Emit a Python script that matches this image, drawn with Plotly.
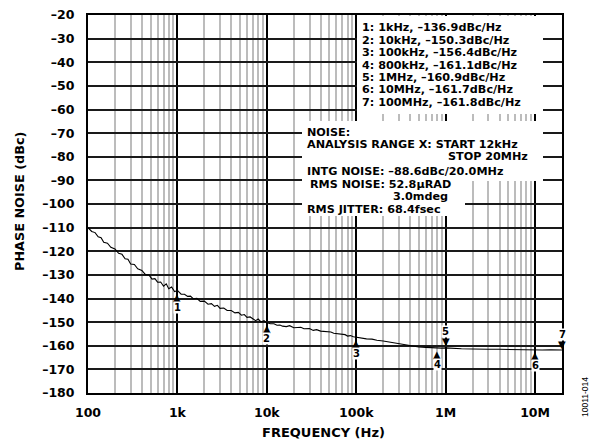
import numpy as np
import plotly.graph_objects as go

# ---- data ----
freq_hz = [
    100, 110, 120, 130, 140, 150, 165, 180, 200, 220, 240, 260, 280, 300, 330, 360,
    400, 440, 480, 520, 560, 600, 650, 700, 750, 800, 860, 930, 1000,
    1100, 1200, 1300, 1400, 1500, 1650, 1800, 2000, 2200, 2400, 2600, 2800, 3000,
    3300, 3600, 4000, 4400, 4800, 5200, 5600, 6000, 6500, 7000, 7500, 8000, 8600,
    9300, 10000,
    11000, 12000, 13000, 14000, 15000, 16500, 18000, 20000, 22000, 24000, 26000,
    28000, 30000, 33000, 36000, 40000, 44000, 48000, 52000, 56000, 60000, 65000,
    70000, 75000, 80000, 86000, 93000, 100000,
    115000, 130000, 150000, 170000, 200000, 230000, 260000, 300000, 350000, 400000,
    450000, 500000, 600000, 700000, 800000, 900000, 1000000,
    1200000, 1500000, 2000000, 2500000, 3000000, 4000000, 5000000, 6000000,
    7000000, 8000000, 10000000, 12000000, 15000000, 18000000, 20000000,
]
phase_noise_dbc = [
    -110.0, -111.6, -112.1, -113.9, -114.3, -116.2, -116.6, -118.3, -119.0, -120.9,
    -121.3, -123.2, -123.4, -125.4, -125.6, -127.4, -128.1, -129.9, -130.0, -131.8,
    -131.6, -133.1, -133.0, -134.8, -133.8, -135.9, -135.1, -137.1, -136.6,
    -138.2, -138.2, -139.1, -139.0, -140.1, -139.9, -141.2, -141.1, -142.4, -142.2,
    -143.3, -142.9, -144.2, -144.0, -145.1, -145.1, -146.1, -145.9, -147.1, -146.8,
    -148.0, -147.8, -148.8, -149.4, -148.7, -149.9, -149.4, -150.3,
    -150.7, -150.7, -151.3, -151.2, -151.7, -151.9, -151.5, -152.4, -152.3, -152.2,
    -152.8, -152.9, -152.7, -153.5, -153.2, -153.8, -154.0, -154.3, -154.2, -154.7,
    -154.9, -155.1, -155.4, -155.3, -155.9, -155.7, -156.2, -156.4,
    -156.7, -157.1, -157.2, -157.7, -158.0, -158.4, -158.7, -159.1, -159.4, -159.9,
    -160.1, -160.5, -160.7, -160.9, -161.1, -161.0, -160.9,
    -161.2, -161.3, -161.4, -161.3, -161.5, -161.5, -161.6, -161.5, -161.7, -161.6,
    -161.7, -161.8, -161.7, -161.8, -161.8,
]

marker_ids = ["1", "2", "3", "4", "5", "6", "7"]
marker_freq = [1e3, 1e4, 1e5, 8e5, 1e6, 1e7, 2e7]
marker_dbc = [-136.9, -150.3, -156.4, -161.1, -160.9, -161.7, -161.8]
marker_up = [True, True, True, True, False, True, False]

marker_lines = [
    "1: 1kHz, –136.9dBc/Hz",
    "2: 10kHz, –150.3dBc/Hz",
    "3: 100kHz, –156.4dBc/Hz",
    "4: 800kHz, –161.1dBc/Hz",
    "5: 1MHz, –160.9dBc/Hz",
    "6: 10MHz, –161.7dBc/Hz",
    "7: 100MHz, –161.8dBc/Hz",
]
noise_lines = [
    "NOISE:",
    "ANALYSIS RANGE X: START 12kHz",
    "STOP 20MHz",
    "INTG NOISE: –88.6dBc/20.0MHz",
    "RMS NOISE: 52.8µRAD",
    "3.0mdeg",
    "RMS JITTER: 68.4fsec",
]

xtick_vals = [100, 1e3, 1e4, 1e5, 1e6, 1e7]
xtick_text = ["100", "1k", "10k", "100k", "1M", "10M"]
ytick_vals = list(range(-180, -19, 10))
ytick_text = ["–%d" % (-v) for v in ytick_vals]

# ---- layout geometry (page pixels) ----
W, H = 598, 445
PL, PT, PR, PB = 88, 15, 562, 393          # plot area in page pixels
L, T = PL, PT
PW, PH = PR - PL, PB - PT
R, B = W - L - PW, H - T - PH


def px(x):
    return (x - PL) / PW


def py(y):
    return 1 - (y - PT) / PH


FONT = "DejaVu Sans, Verdana, sans-serif"
fig = go.Figure()

fig.add_trace(go.Scatter(
    x=freq_hz, y=phase_noise_dbc, mode="lines",
    line=dict(color="black", width=1.1), hoverinfo="skip", showlegend=False,
))

# white boxes behind the text blocks
box_style = dict(type="rect", xref="paper", yref="paper", fillcolor="white",
                 line=dict(width=0), layer="above")
fig.add_shape(x0=px(357), x1=px(543), y0=py(16), y1=py(114), **box_style)
fig.add_shape(x0=px(302), x1=px(543), y0=py(121), y1=py(181), **box_style)
fig.add_shape(x0=px(302), x1=px(465), y0=py(181), y1=py(216), **box_style)

annotations = []
text_font = dict(family=FONT, size=11.2, color="black", weight="bold")
for i, line in enumerate(marker_lines):
    annotations.append(dict(xref="paper", yref="paper", x=px(360), y=py(27.5 + 12.5 * i),
                            xanchor="left", yanchor="middle", text=line,
                            showarrow=False, font=text_font))
noise_pos = [(305, 132.5, "left"), (305, 144.8, "left"), (530, 156.5, "right"),
             (305, 171, "left"), (308, 184, "left"), (450, 197, "right"),
             (305, 209.5, "left")]
for line, (lx, ly, anc) in zip(noise_lines, noise_pos):
    annotations.append(dict(xref="paper", yref="paper", x=px(lx), y=py(ly),
                            xanchor=anc, yanchor="middle", text=line,
                            showarrow=False, font=text_font))

# markers (triangles + numbers)
for mid, f, v, up in zip(marker_ids, marker_freq, marker_dbc, marker_up):
    lx = float(np.log10(f))
    tri = "▲" if up else "▼"
    s = -1 if up else 1
    annotations.append(dict(xref="x", yref="y", x=lx, y=v, yshift=s * 6,
                            text=tri, showarrow=False,
                            font=dict(family="DejaVu Sans", size=10, color="black")))
    annotations.append(dict(xref="x", yref="y", x=lx, y=v, yshift=s * 16,
                            text=mid, showarrow=False, bgcolor="white", borderpad=0,
                            font=dict(family=FONT, size=10, color="black", weight="bold")))

# axis titles and figure id
annotations.append(dict(xref="paper", yref="paper", x=px(323.5), y=py(432),
                        xanchor="center", yanchor="middle", text="FREQUENCY (Hz)",
                        showarrow=False,
                        font=dict(family=FONT, size=13, color="black", weight="bold")))
annotations.append(dict(xref="paper", yref="paper", x=px(20), y=py(202),
                        xanchor="center", yanchor="middle", text="PHASE NOISE (dBc)",
                        textangle=-90, showarrow=False,
                        font=dict(family=FONT, size=12.8, color="black", weight="bold")))
annotations.append(dict(xref="paper", yref="paper", x=px(585), y=py(397),
                        xanchor="center", yanchor="middle", text="10011-014",
                        textangle=-90, showarrow=False,
                        font=dict(family="Liberation Sans, Arial", size=8.5, color="black")))

tick_font = dict(family=FONT, size=12.5, color="black", weight="bold")
fig.update_layout(
    width=W, height=H, autosize=False,
    margin=dict(l=L, r=R, t=T, b=B, pad=0, autoexpand=False),
    paper_bgcolor="white", plot_bgcolor="white",
    annotations=annotations,
    xaxis=dict(
        type="log", range=[2, np.log10(2e7)], automargin=False,
        tickvals=xtick_vals, ticktext=xtick_text, tickfont=tick_font,
        showgrid=True, gridcolor="black", gridwidth=2,
        minor=dict(dtick="D1", showgrid=True, gridcolor="#bcbcbc", gridwidth=1.5, ticks=""),
        showline=True, linecolor="black", linewidth=2, mirror=True,
        ticks="", ticklabelstandoff=7, zeroline=False,
    ),
    yaxis=dict(
        range=[-180, -20], automargin=False,
        tickvals=ytick_vals, ticktext=ytick_text, tickfont=tick_font,
        showgrid=True, gridcolor="#1a1a1a", gridwidth=1.5,
        showline=True, linecolor="black", linewidth=2, mirror=True,
        ticks="", ticklabelstandoff=9, zeroline=False,
    ),
)

fig.write_html("out.html", config={"displayModeBar": False},
               post_script="document.body.style.margin='0';")
